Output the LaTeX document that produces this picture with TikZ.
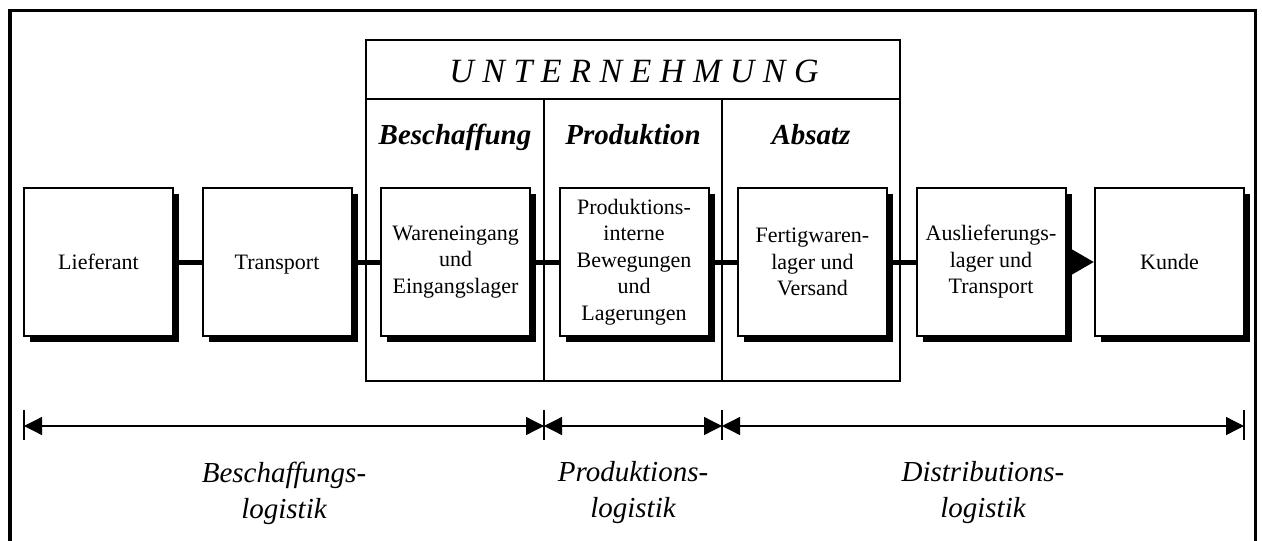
\documentclass[tikz,border=0pt]{standalone}
\usepackage{fontspec}
\setmainfont{Liberation Serif}
\usetikzlibrary{arrows.meta,shadows}
\tikzset{
  stbox/.style={draw, line width=2pt, fill=white, minimum width=149pt, minimum height=148pt,
    inner sep=2pt, align=center, font=\fontsize{22}{26.5}\selectfont,
    drop shadow={shadow xshift=6pt, shadow yshift=-6pt, fill=black, opacity=1}},
  conn/.style={line width=5pt},
  hdr/.style={font=\fontsize{29}{34}\selectfont\bfseries\itshape, anchor=base, inner sep=0pt},
  lbl/.style={font=\fontsize{29}{36}\selectfont\itshape, align=center, inner sep=0pt},
  dim/.style={line width=1.3pt, {Triangle[length=18pt,width=18pt]}-{Triangle[length=18pt,width=18pt]}},
  tick/.style={line width=1.3pt}
}
\begin{document}
\begin{tikzpicture}[x=1pt,y=-1pt]
\useasboundingbox (0,0) rectangle (1262,541);
% outer frame (open at bottom)
\draw[line width=3.5pt] (10,541) -- (10,10.5) -- (1255.5,10.5) -- (1255.5,541);
% Unternehmung frame
\draw[line width=2.5pt] (366,40) rectangle (900,381);
\draw[line width=2.5pt] (366,99) -- (900,99);
\draw[line width=2.5pt] (544,99) -- (544,381);
\draw[line width=2.5pt] (722,99) -- (722,381);
\node[font=\fontsize{34}{40}\selectfont\itshape, anchor=base, inner sep=0pt] (unt) at (634,82) {U N T E R N E H M U N G};
\node[hdr] (hb) at (455,144) {Beschaffung};
\node[hdr] (hp) at (633,144) {Produktion};
\node[hdr] (ha) at (811,144) {Absatz};
% boxes
\node[stbox] (b1) at (98.5,262) {Lieferant};
\node[stbox, text depth=0pt] (b2) at (277,262) {Transport};
\node[stbox] (b3) at (455.5,262) {Wareneingang\\und\\Eingangslager};
\node[stbox] (b4) at (634,262) {Produktions-\\interne\\Bewegungen\\und\\Lagerungen};
\node[stbox] (b5) at (812.5,262) {Fertigwaren-\\lager und\\Versand};
\node[stbox] (b6) at (991,262) {Auslieferungs-\\lager und\\Transport};
\node[stbox] (b7) at (1169.5,262) {Kunde};
% connectors
\draw[conn] (b1) -- (b2);
\draw[conn] (b2) -- (b3);
\draw[conn] (b3) -- (b4);
\draw[conn] (b4) -- (b5);
\draw[conn] (b5) -- (b6);
\draw[conn, -{Triangle[length=24pt,width=26pt]}] (b6) -- (b7);
% dimension lines
\coordinate (d0) at (24,426);
\coordinate (d1) at (544,426);
\coordinate (d2) at (722,426);
\coordinate (d3) at (1244,426);
\foreach \c in {d0,d1,d2,d3} \draw[tick] ([yshift=16pt]\c) -- ([yshift=-14pt]\c);
\draw[dim] (d0) -- (d1);
\draw[dim] (d1) -- (d2);
\draw[dim] (d2) -- (d3);
\node[lbl] (l1) at (284,493) {Beschaffungs-\\logistik};
\node[lbl] (l2) at (633,493) {Produktions-\\logistik};
\node[lbl] (l3) at (983,493) {Distributions-\\logistik};
\end{tikzpicture}
\end{document}
